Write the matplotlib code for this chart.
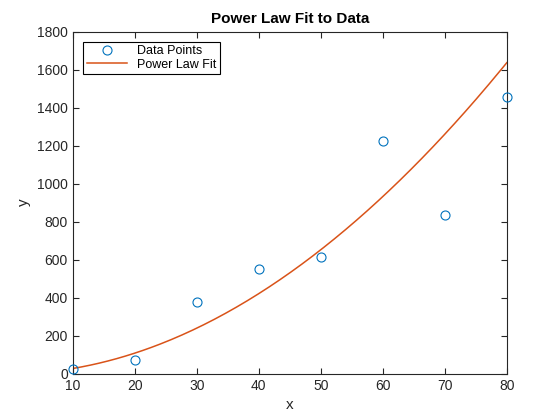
import numpy as np
import matplotlib
matplotlib.use("Agg")
import matplotlib.pyplot as plt

# data points
x_data = [10, 20, 30, 40, 50, 60, 70, 80]
y_data = [26, 72, 380, 550, 612, 1222, 833, 1453]

# power law fit y = a * x^b (coefficients estimated from the drawn curve)
fit_a = 0.31
fit_b = 1.956

plt.rcParams['font.family'] = ['Liberation Sans', 'DejaVu Sans']

fig = plt.figure(figsize=(5.6, 4.2), dpi=100)
ax = fig.add_axes([0.13, 0.11, 0.775, 0.815])

x_fit = np.linspace(min(x_data), max(x_data), 200)
y_fit = fit_a * x_fit ** fit_b

ax.plot(x_data, y_data, 'o', mfc='none', mec=(0, 0.447, 0.741), ms=6.5, mew=0.8,
        label='Data Points', clip_on=False, zorder=3)
ax.plot(x_fit, y_fit, color=(0.85, 0.325, 0.098), lw=1.1, label='Power Law Fit')

ax.set_xlim(10, 80)
ax.set_ylim(0, 1800)
ax.set_xticks(range(10, 81, 10))
ax.set_yticks(range(0, 1801, 200))

grey = (0.15, 0.15, 0.15)
for s in ax.spines.values():
    s.set_color(grey)
    s.set_linewidth(0.8)
ax.tick_params(direction='in', top=True, right=True, colors=grey, labelsize=10,
               length=4, width=0.8)

ax.set_xlabel('x', fontsize=11, color=grey)
ax.set_ylabel('y', fontsize=11, color=grey)
ax.set_title('Power Law Fit to Data', fontsize=11, fontweight='bold')

leg = ax.legend(loc='upper left', fontsize=9, fancybox=False, framealpha=1,
                edgecolor='black', borderpad=0.3, handlelength=3.2,
                labelspacing=0.1, borderaxespad=0.8)
leg.get_frame().set_linewidth(0.8)

fig.savefig('out.png', dpi=100)
